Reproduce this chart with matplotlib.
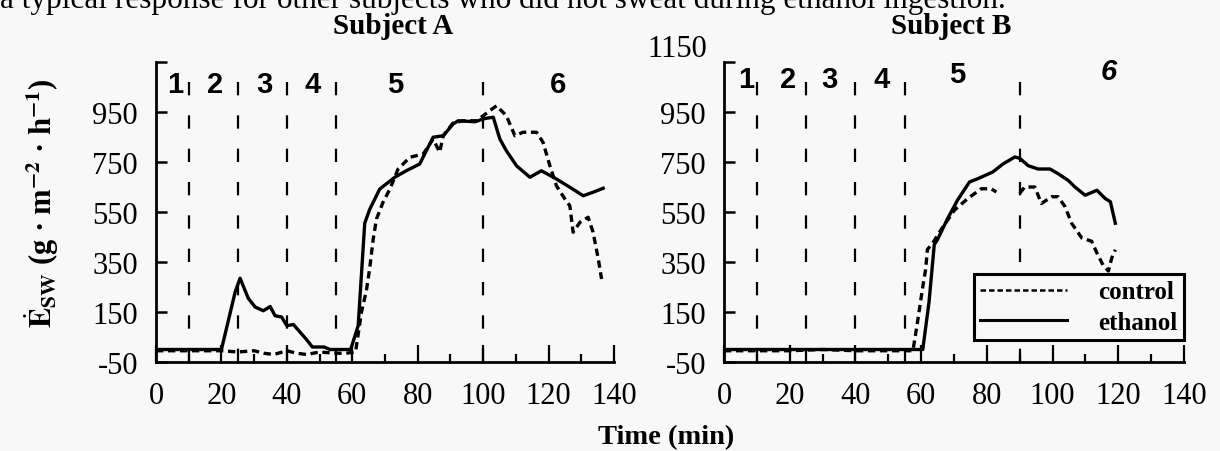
import matplotlib
matplotlib.use("Agg")
import matplotlib.pyplot as plt
from matplotlib.lines import Line2D

# Subject A, ethanol (solid)
a_eth_t = [0, 10, 20, 24.2, 25.7, 28.2, 30.3, 32.8, 34.9, 36.4, 38.4, 40, 42,
           44, 46, 47.8, 51.4, 53.2, 59.5, 61.8, 63.8, 65.3, 68.4, 73, 76.5,
           80.6, 84.7, 87.8, 90.8, 92.4, 97.5, 100, 101, 103.1, 105.1, 107.1,
           110.2, 114.3, 117.8, 122.4, 126.5, 130.6, 133.6, 136.7]
a_eth_v = [0, 0, 0, 230, 285, 205, 170, 155, 172, 135, 130, 95, 100,
           70, 40, 10, 10, 0, 0, 95, 505, 560, 642, 689, 715,
           742, 849, 855, 902, 915, 911, 922, 925, 929, 842, 795,
           735, 689, 715, 682, 649, 615, 629, 645]

# Subject A, control (dashed)
a_ctl_t = [0, 10, 20, 25, 30, 33, 36, 40, 43, 46, 50, 55, 58, 61, 62.8, 64.3,
           65.3, 66.4, 67.4, 69.4, 71.5, 74, 77.6, 81.7, 84.7, 86.7, 87.8,
           90.8, 93.9, 98, 102, 104.1, 107.1, 109.7, 112.2, 116.3, 118.3,
           120.4, 122.4, 125, 126.5, 127.5, 129.6, 132.1, 133.6, 135.2, 136.2]
a_ctl_v = [-5, -5, -5, -10, -5, -15, -20, -5, -15, -20, -10, -15, -15, -10,
           149, 235, 322, 442, 522, 589, 642, 722, 769, 782, 842, 789, 855,
           906, 915, 915, 955, 975, 935, 855, 869, 869, 829,
           735, 655, 602, 575, 469, 509, 529, 469, 362, 282]

# Subject B, ethanol (solid)
b_eth_t = [0, 20, 40, 60.5, 62.4, 64, 65, 68.1, 71.1, 74.7, 77.2, 81.8, 84.9,
           88.5, 90, 92.6, 95.6, 99.2, 101.7, 104.8, 106.8, 109.9, 113.5, 116,
           117.6, 119.1]
b_eth_v = [0, 0, 0, 0, 190, 420, 440, 525, 598, 670, 683, 710, 742,
           770, 765, 735, 722, 722, 703, 676, 650, 617, 637, 604,
           591, 505]

# Subject B, control (dashed); NaN marks the missing samples
b_ctl_t = [0, 20, 30, 40, 57.5, 58.9, 60.4, 61.4, 61.9, 63.5, 66, 70.1, 74.2,
           78.3, 81.3, 82.9, 86, 90, 91.5, 94.6, 96.6, 99.7, 101.7, 103.8,
           105.8, 108.9, 111.9, 113.5, 115.5, 117, 118, 119.1]
b_ctl_v = [-5, -5, 0, -5, -5, 110, 243, 323, 400, 425, 478, 557, 604,
           643, 643, 630, float("nan"), 624, 650, 650, 584, 611, 611, 571,
           505, 446, 433, 386, 334, 314, 366, 399]

phase_bounds_a = [10, 25, 40, 55, 100]
phase_bounds_b = [10, 25, 40, 55, 90]
phase_names = ["1", "2", "3", "4", "5", "6"]

y_ticks = [-50, 150, 350, 550, 750, 950, 1150]
x_ticks = [0, 20, 40, 60, 80, 100, 120, 140]

BG = "#f8f8f8"
plt.rcParams["font.family"] = "Liberation Serif"
plt.rcParams["mathtext.fontset"] = "stix"

fig = plt.figure(figsize=(12.2, 4.52), dpi=100, facecolor=BG)
W, H = 1220, 452


def make_axes(left_px, width_px):
    ax = fig.add_axes([left_px / W, 1 - 363 / H, width_px / W, 300 / H])
    ax.set_facecolor(BG)
    ax.set_xlim(0, 140)
    ax.set_ylim(-50, 1150)
    for side in ("top", "right"):
        ax.spines[side].set_visible(False)
    for side in ("left", "bottom"):
        ax.spines[side].set_linewidth(2.0)
    ax.set_xticks(x_ticks)
    ax.set_xticks(range(10, 140, 20), minor=True)
    ax.set_yticks(y_ticks)
    ax.set_yticklabels([str(v) for v in y_ticks[:-1]] + [""])
    ax.tick_params(axis="y", direction="in", length=8, width=1.8, pad=13,
                   labelsize=22)
    ax.tick_params(axis="x", which="major", direction="in", length=12,
                   width=1.6, pad=14, labelsize=22)
    ax.tick_params(axis="x", which="minor", direction="in", length=6,
                   width=1.6)
    return ax


def draw_panel(ax, eth_t, eth_v, ctl_t, ctl_v, bounds):
    for b in bounds:
        ax.axvline(b, color="k", lw=1.6, linestyle=(0, (6, 9)), zorder=1)
    ax.plot(ctl_t, ctl_v, color="k", lw=2.4, linestyle=(0, (2.2, 1.4)),
            zorder=3)
    ax.plot(eth_t, eth_v, color="k", lw=2.4, zorder=3)


ax_a = make_axes(156, 458)
ax_b = make_axes(724, 460)

draw_panel(ax_a, a_eth_t, a_eth_v, a_ctl_t, a_ctl_v, phase_bounds_a)
draw_panel(ax_b, b_eth_t, b_eth_v, b_ctl_t, b_ctl_v, phase_bounds_b)

# phase numbers across the top of each panel
for name, x in zip(phase_names, [6, 18, 33, 48, 73, 123]):
    ax_a.text(x, 1062, name, family="Liberation Sans", fontsize=21,
              fontweight="bold", ha="center", va="center")
for name, x, y in zip(phase_names, [6.7, 19.5, 32, 48, 71, 117],
                      [1082, 1082, 1082, 1082, 1102, 1114]):
    ax_b.text(x, y, name, family="Liberation Sans", fontsize=21,
              fontweight="bold", ha="center", va="center",
              style="italic" if name == "6" else "normal")

# the 1150 label sits a little above the top tick in the original
ax_b.annotate("1150", xy=(0, 1150), xycoords=("axes fraction", "data"),
              xytext=(-12, 10), textcoords="offset points",
              ha="right", va="center", fontsize=22)

leg_handles = [Line2D([], [], color="k", lw=1.8, linestyle=(0, (2.2, 1.2))),
               Line2D([], [], color="k", lw=2.2)]
leg = ax_b.legend(leg_handles, ["control", "ethanol"], loc="lower right",
                  bbox_to_anchor=(1.0, 0.073), borderaxespad=0,
                  fancybox=False, edgecolor="k", facecolor=BG, framealpha=1,
                  prop={"family": "Liberation Serif", "weight": "bold",
                        "size": 18},
                  handlelength=3.5, handletextpad=1.25, labelspacing=0.3,
                  borderpad=0.25)
leg.get_frame().set_linewidth(2.2)

fig.text(0.0, 1 - 8 / H,
         "a typical response for other subjects who did not sweat during "
         "ethanol ingestion.", fontsize=22.5, ha="left", va="baseline")
fig.text(393 / W, 1 - 27 / H, "Subject A", fontsize=21, fontweight="bold",
         ha="center", va="center")
fig.text(951 / W, 1 - 26 / H, "Subject B", fontsize=21, fontweight="bold",
         ha="center", va="center")
fig.text(666 / W, 1 - 438 / H, "Time (min)", fontsize=20.5,
         fontweight="bold", ha="center", va="center")
fig.text(42 / W, 1 - 203 / H,
         r"$\dot{\mathbf{E}}_{\mathbf{SW}}$ (g · m$^{\mathbf{-2}}$"
         r" · h$^{\mathbf{-1}}$)",
         fontsize=22, fontweight="bold", rotation=90,
         ha="center", va="center")

fig.savefig("out.png", dpi=100, facecolor=BG)
